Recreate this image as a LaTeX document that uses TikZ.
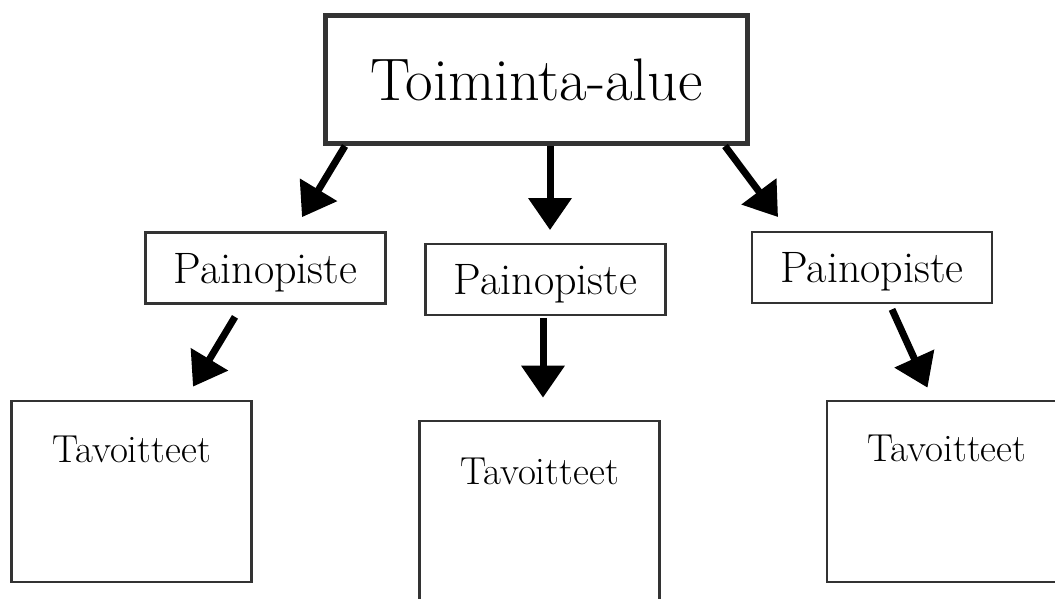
\documentclass[tikz,border=0pt]{standalone}
\usetikzlibrary{arrows.meta}
\begin{document}
\begin{tikzpicture}[x=1pt,y=-1pt,
  topbox/.style={draw=black!80, line width=5pt, minimum width=422pt, minimum height=128pt, inner sep=0pt,
    font=\fontsize{60}{64}\selectfont},
  pbox/.style={draw=black!80, line width=2.7pt, minimum width=240pt, minimum height=71pt, inner sep=0pt,
    text depth=0pt, font=\fontsize{44}{48}\selectfont},
  tbox/.style={draw=black!80, line width=2.7pt, minimum width=240pt, minimum height=181pt, inner sep=0pt},
  tlabel/.style={anchor=north, inner sep=0pt, font=\fontsize{39}{44}\selectfont},
  arr/.style={line width=7pt, -{Triangle[length=32pt,width=42pt]}}
]
\clip (0,0) rectangle (1055,598);
\fill[white] (0,0) rectangle (1055,598);

\node[topbox] (top) at (536.5,79.5) {Toiminta-alue};

\node[pbox] (p1) at (265.5,268) {Painopiste};
\node[pbox] (p2) at (545.5,279.5) {Painopiste};
\node[pbox] (p3) at (872,267.5) {Painopiste};

\node[tbox, label={[tlabel, yshift=-36.4pt]north:Tavoitteet}] (t1) at (131.5,491.5) {};
\node[tbox, label={[tlabel, yshift=-38.3pt]north:Tavoitteet}] (t2) at (539.5,511.5) {};
\node[tbox, label={[tlabel, yshift=-35.4pt]north:Tavoitteet}] (t3) at (947,491.5) {};

\draw[arr] ([xshift=22pt]top.south west) -- ([xshift=36.5pt,yshift=14pt]p1.north);
\draw[arr] ([xshift=13.5pt]top.south) -- ([xshift=4.5pt,yshift=12.6pt]p2.north);
\draw[arr] ([xshift=188.5pt]top.south) -- ([xshift=-94pt,yshift=13.6pt]p3.north);

\draw[arr] ([xshift=-30.5pt,yshift=-12pt]p1.south) -- ([xshift=61.5pt,yshift=13pt]t1.north);
\draw[arr] ([xshift=-2.5pt,yshift=-1.6pt]p2.south) -- ([xshift=3.5pt,yshift=22pt]t2.north);
\draw[arr] ([xshift=20pt,yshift=-5pt]p3.south) -- ([xshift=-19.5pt,yshift=12pt]t3.north);
\end{tikzpicture}
\end{document}
